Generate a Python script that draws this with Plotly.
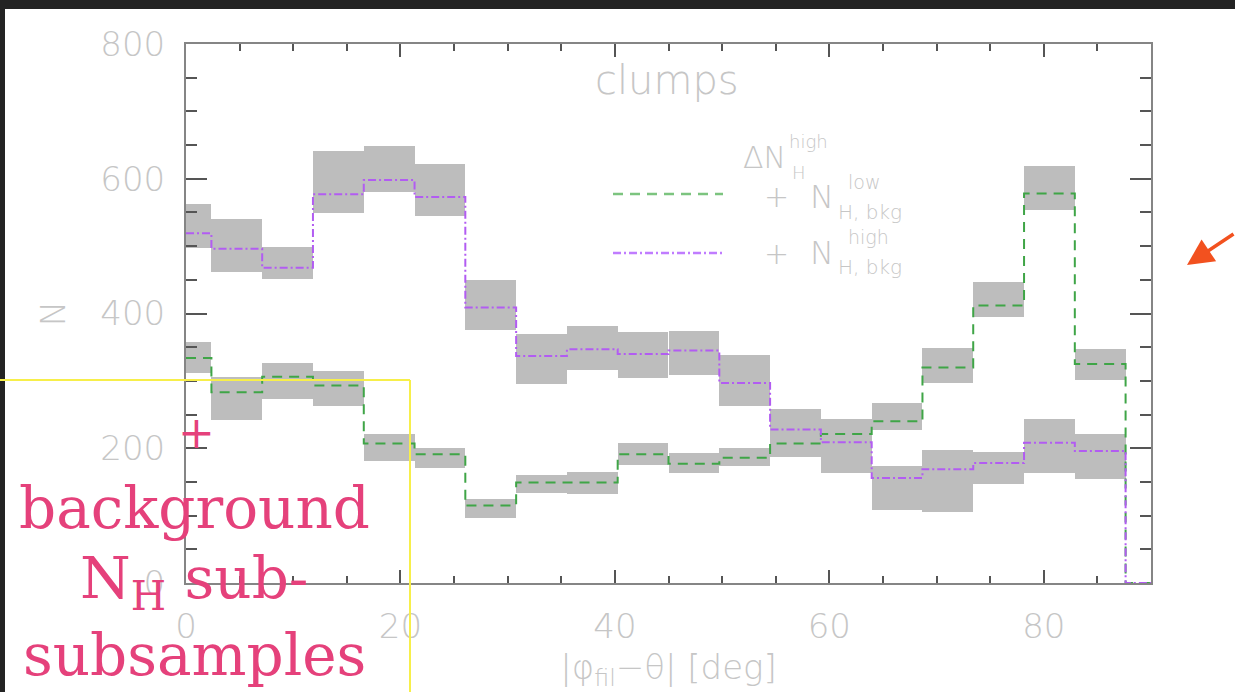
import plotly.graph_objects as go

# ---------------- data ----------------
bin_centers = [0.0, 4.74, 9.47, 14.21, 18.95, 23.68, 28.42, 33.16, 37.89, 42.63,
               47.37, 52.11, 56.84, 61.58, 66.32, 71.05, 75.79, 80.53, 85.26, 90.0]
bin_width = 4.737

# dashed green: Delta N_H^high + N_H,bkg^low
low_vals = [334, 283, 306, 293, 207, 191, 115, 149, 149, 191,
            177, 186, 207, 221, 240, 320, 412, 578, 325, 0]
low_hi = [358, 306, 326, 315, 221, 201, 124, 161, 165, 208,
          193, 200, 225, 243, 267, 349, 447, 619, 347]
low_lo = [311, 242, 273, 262, 181, 170, 96, 134, 132, 175,
          163, 174, 187, 200, 227, 297, 395, 553, 301]

# dash-dot purple: Delta N_H^high + N_H,bkg^high
high_vals = [519, 496, 468, 577, 598, 573, 409, 337, 347, 340,
             345, 297, 228, 209, 156, 169, 178, 208, 196, 0]
high_hi = [563, 540, 499, 641, 648, 622, 450, 369, 381, 373,
           374, 338, 259, 235, 173, 197, 195, 243, 221]
high_lo = [497, 461, 451, 549, 581, 544, 375, 295, 316, 305,
           309, 263, 200, 163, 108, 106, 147, 164, 154]

x_ticks = [0, 20, 40, 60, 80]
y_ticks = [0, 200, 400, 600, 800]

# ---------------- layout geometry ----------------
W, H = 1235, 692
L, R, T, B = 186, 1151, 44, 583          # plot area in pixels


def px(x):
    return (x - L) / (R - L)


def py(y):
    return (B - y) / (B - T)


GREEN = "#3fa547"
PURPLE = "#b25cf2"
GREY_BOX = "#bdbdbd"
TXT = "#c6c6c6"
AXC = "#858585"
PINK = "#e5417b"

fig = go.Figure()

nb = len(low_hi)
fig.add_trace(go.Bar(x=bin_centers[:nb], y=[h - l for h, l in zip(low_hi, low_lo)],
                     base=low_lo, width=bin_width, marker=dict(color=GREY_BOX, line=dict(width=0)),
                     showlegend=False, hoverinfo="skip"))
fig.add_trace(go.Bar(x=bin_centers[:nb], y=[h - l for h, l in zip(high_hi, high_lo)],
                     base=high_lo, width=bin_width, marker=dict(color=GREY_BOX, line=dict(width=0)),
                     showlegend=False, hoverinfo="skip"))

fig.add_trace(go.Scatter(x=bin_centers, y=low_vals, mode="lines",
                         line=dict(color=GREEN, width=2, dash="10px,7px", shape="hvh"),
                         showlegend=False, cliponaxis=False))
fig.add_trace(go.Scatter(x=bin_centers, y=high_vals, mode="lines",
                         line=dict(color=PURPLE, width=2, dash="8px,3px,2px,3px", shape="hvh"),
                         showlegend=False, cliponaxis=False))

shapes = []
# white slide panel (dark border shows at top and left)
shapes.append(dict(type="rect", xref="paper", yref="paper", layer="below",
                   x0=px(5), x1=px(W + 5), y0=py(H + 5), y1=py(9),
                   fillcolor="white", line=dict(width=0)))
# legend sample lines
shapes.append(dict(type="line", xref="paper", yref="paper", x0=px(613), x1=px(723),
                   y0=py(194), y1=py(194), line=dict(color="#7cc47f", width=2.5, dash="10px,7px")))
shapes.append(dict(type="line", xref="paper", yref="paper", x0=px(613), x1=px(723),
                   y0=py(253), y1=py(253), line=dict(color="#c07cff", width=2.5, dash="8px,3px,2px,3px")))
# yellow frame
shapes.append(dict(type="line", xref="paper", yref="paper", x0=px(0), x1=px(410),
                   y0=py(380), y1=py(380), line=dict(color="#f7ef4a", width=2)))
shapes.append(dict(type="line", xref="paper", yref="paper", x0=px(410), x1=px(410),
                   y0=py(380), y1=py(H + 5), line=dict(color="#f7ef4a", width=2)))

ann = []


def text(x, y, s, size, color=TXT, family="DejaVu Sans", xa="center", ya="middle", weight=None):
    f = dict(size=size, color=color, family=family)
    if weight:
        f["weight"] = weight
    ann.append(dict(x=px(x), y=py(y), xref="paper", yref="paper", text=s, showarrow=False,
                    xanchor=xa, yanchor=ya, font=f))


text(667, 80, "clumps", 40, weight=300)
# legend texts
text(764, 157, "ΔN", 30, weight=300)
text(787, 142, "high", 18, xa="left", weight=300)
text(790, 173, "H", 18, xa="left", weight=300)
text(776, 197, "+", 30, weight=300)
text(822, 197, "N", 32, weight=300)
text(846, 182, "low", 19, xa="left", weight=300)
text(836, 212, "H, bkg", 20, xa="left", weight=300)
text(776, 253, "+", 30, weight=300)
text(822, 253, "N", 32, weight=300)
text(846, 237, "high", 19, xa="left", weight=300)
text(836, 267, "H, bkg", 20, xa="left", weight=300)
# pink slide annotation
text(196, 432, "+", 44, color=PINK, family="DejaVu Serif")
text(194, 508, "background", 58, color=PINK, family="DejaVu Serif")
text(194, 582, "N<sub>H</sub> sub-", 58, color=PINK, family="DejaVu Serif")
text(194, 655, "subsamples", 58, color=PINK, family="DejaVu Serif")
# red arrow
ann.append(dict(x=px(1187), y=py(265), xref="paper", yref="paper", text="", showarrow=True,
                ax=62, ay=-32, arrowcolor="#f2511f", arrowwidth=3.5, arrowhead=2, arrowsize=1.5))

fig.update_layout(
    width=W, height=H,
    margin=dict(l=L, r=W - R, t=T, b=H - B, pad=0),
    paper_bgcolor="#232323", plot_bgcolor="white",
    barmode="overlay", bargap=0,
    shapes=shapes, annotations=ann,
    font=dict(family="DejaVu Sans", color=TXT),
)
fig.update_xaxes(range=[0, 90], tickvals=x_ticks, ticks="inside", ticklen=13, tickwidth=2,
                 tickcolor="#555", minor=dict(dtick=5, ticklen=7, tickwidth=2, tickcolor="#555", ticks="inside"),
                 showline=True, linecolor=AXC, linewidth=2, mirror="ticks", showgrid=False,
                 zeroline=False, tickfont=dict(size=34, color=TXT, weight=300), ticklabelstandoff=12,
                 title=dict(text="|φ<sub>fil</sub>−θ| [deg]", font=dict(size=34, color=TXT, weight=300), standoff=18),
                 automargin=False)
fig.update_yaxes(range=[0, 800], tickvals=y_ticks, ticks="inside", ticklen=21, tickwidth=2,
                 tickcolor="#555", minor=dict(dtick=50, ticklen=11, tickwidth=2, tickcolor="#555", ticks="inside"),
                 showline=True, linecolor=AXC, linewidth=2, mirror="ticks", showgrid=False,
                 zeroline=False, tickfont=dict(size=34, color=TXT, weight=300), ticklabelstandoff=12,
                 title=dict(text="N", font=dict(size=34, color=TXT, weight=300), standoff=24),
                 automargin=False)

fig.write_html("out.html", config={"displayModeBar": False},
               post_script="document.body.style.margin='0';document.body.style.overflow='hidden';")
